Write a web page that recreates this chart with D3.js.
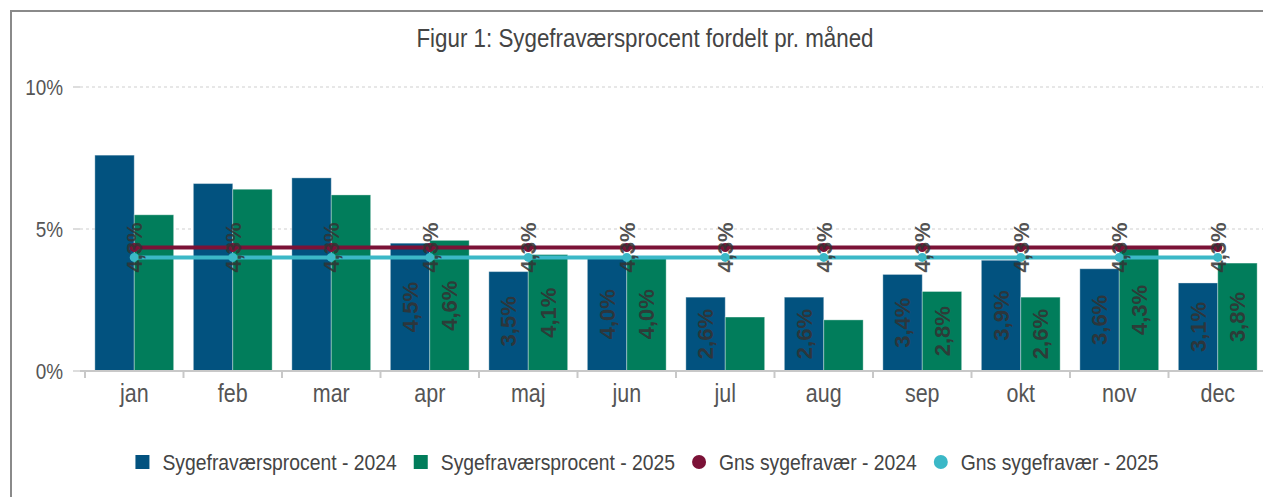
<!DOCTYPE html>
<html>
<head>
<meta charset="utf-8">
<script src="https://cdn.jsdelivr.net/npm/d3@7"></script>
<style>
  body { margin: 0; background: #fff; }
  svg { display: block; }
  text { font-family: "Liberation Sans", Arial, sans-serif; }
</style>
</head>
<body>
<div id="chart"></div>
<script>
// data
var months = ["jan", "feb", "mar", "apr", "maj", "jun", "jul", "aug", "sep", "okt", "nov", "dec"]
var pct2024 = [7.6, 6.6, 6.8, 4.5, 3.5, 4.0, 2.6, 2.6, 3.4, 3.9, 3.6, 3.1]
var pct2025 = [5.5, 6.4, 6.2, 4.6, 4.1, 4.0, 1.9, 1.8, 2.8, 2.6, 4.3, 3.8]
var avg2024 = 4.35
var avg2025 = 4.0
var yTicks = [0, 5, 10]
var seriesNames = ["Sygefraværsprocent - 2024", "Sygefraværsprocent - 2025", "Gns sygefravær - 2024", "Gns sygefravær - 2025"]
var title = "Figur 1: Sygefraværsprocent fordelt pr. måned"

var W = 1263, H = 497
var colors = { b2024: "#02527f", b2025: "#017d5b", a2024: "#7b1237", a2025: "#3bb8c7" }
var squeeze = 0.86 // the chart font is a narrow one, squeeze Liberation Sans to match

var da = d3.formatLocale({ decimal: ",", thousands: ".", grouping: [3], currency: ["", " kr."] })
var fmtPct = function(v) { return da.format(".1f")(v) + "%" }

// narrow text helper: a group that is scaled horizontally
function narrowText(parent, px, py, size, anchor, fill, str) {
  var g = parent.append("g").attr("transform", "translate(" + px + "," + py + ") scale(" + squeeze + ",1)")
  var t = g.append("text")
    .attr("text-anchor", anchor)
    .attr("font-size", size)
    .attr("fill", fill)
    .text(str)
  return t
}

var svg = d3.select("#chart").append("svg")
  .attr("width", W)
  .attr("height", H)

// frame
svg.append("path")
  .attr("d", "M11,520 L11,11 L1280,11")
  .attr("fill", "none")
  .attr("stroke", "#8a8a8a")
  .attr("stroke-width", 2)

// title
narrowText(svg, 645, 47, 26, "middle", "#444", title)

var x = d3.scaleBand().domain(months).range([85, 1267]).paddingInner(0.2).paddingOuter(0.1)
var x1 = d3.scaleBand().domain(["2024", "2025"]).range([0, x.bandwidth()])
var y = d3.scaleLinear().domain([0, 10]).range([371, 87])

// grid lines
svg.selectAll(".grid").data(yTicks.filter(function(d) { return d > 0 })).enter()
  .append("line")
  .attr("x1", 80).attr("x2", W)
  .attr("y1", function(d) { return y(d) }).attr("y2", function(d) { return y(d) })
  .attr("stroke", "#cfcfcf")
  .attr("stroke-dasharray", "3,3")

// y ticks + labels
svg.selectAll(".ytick").data(yTicks).enter()
  .append("line")
  .attr("x1", 73).attr("x2", 80)
  .attr("y1", function(d) { return y(d) }).attr("y2", function(d) { return y(d) })
  .attr("stroke", "#bbb")
yTicks.forEach(function(d) {
  narrowText(svg, 63, y(d), 22, "end", "#555", d + "%").attr("dy", "0.36em")
})

// bars
var rows = months.map(function(m, i) {
  return [{ m: m, s: "2024", v: pct2024[i] }, { m: m, s: "2025", v: pct2025[i] }]
})
var groups = svg.selectAll(".grp").data(rows).enter()
  .append("g")
  .attr("transform", function(d) { return "translate(" + x(d[0].m) + ",0)" })
groups.selectAll("rect").data(function(d) { return d }).enter()
  .append("rect")
  .attr("x", function(d) { return x1(d.s) })
  .attr("width", x1.bandwidth())
  .attr("y", function(d) { return y(d.v) })
  .attr("height", function(d) { return y(0) - y(d.v) })
  .attr("fill", function(d) { return d.s == "2024" ? colors.b2024 : colors.b2025 })
  .attr("stroke", "rgba(255,255,255,0.35)")
  .attr("stroke-width", 1)

// x axis
svg.append("line")
  .attr("x1", 80).attr("x2", W)
  .attr("y1", y(0)).attr("y2", y(0))
  .attr("stroke", "#c8c8c8")
  .attr("stroke-width", 2)
var half = x.step() * x.paddingInner() / 2
svg.selectAll(".xtick").data(months).enter()
  .append("line")
  .attr("x1", function(d) { return x(d) - half }).attr("x2", function(d) { return x(d) - half })
  .attr("y1", y(0)).attr("y2", y(0) + 7)
  .attr("stroke", "#c8c8c8")
  .attr("stroke-width", 2)
months.forEach(function(m) {
  narrowText(svg, x(m) + x.bandwidth() / 2, 402, 25, "middle", "#555", m)
})

// average lines
var cx = function(d, i) { return x(months[i]) + x.bandwidth() / 2 }
var avgs = [{ v: avg2024, c: colors.a2024 }, { v: avg2025, c: colors.a2025 }]
avgs.forEach(function(a) {
  var pts = months.map(function() { return a.v })
  svg.append("path")
    .datum(pts)
    .attr("fill", "none")
    .attr("stroke", a.c)
    .attr("stroke-width", 4)
    .attr("d", d3.line().x(cx).y(function(d) { return y(d) }))
  svg.selectAll(null).data(pts).enter()
    .append("circle")
    .attr("cx", cx)
    .attr("cy", function(d) { return y(d) })
    .attr("r", 4.5)
    .attr("fill", a.c)
})

// line labels (only the 2024 average shows them)
var lineLabLen = 52
var lineLabTop = y(avg2024) - lineLabLen / 2
var lineLabBottom = y(avg2024) + lineLabLen / 2

// bar labels, hidden when they don't fit or hit the line labels
groups.selectAll(".blab").data(function(d) { return d }).enter()
  .append("text")
  .attr("transform", function(d) {
    var mid = (y(d.v) + y(0)) / 2
    return "translate(" + (x1(d.s) + x1.bandwidth() / 2) + "," + mid + ") rotate(-90)"
  })
  .attr("text-anchor", "middle")
  .attr("dy", "0.36em")
  .attr("font-weight", "bold")
  .attr("font-size", 22)
  .attr("fill", "#333")
  .attr("fill-opacity", 0.9)
  .text(function(d) { return fmtPct(d.v) })
  .each(function(d) {
    var len = this.getComputedTextLength()
    var h = y(0) - y(d.v)
    var mid = (y(d.v) + y(0)) / 2
    var hitsLine = (mid - len / 2) < lineLabBottom && (mid + len / 2) > lineLabTop
    if (len > h - 12 || hitsLine) d3.select(this).remove()
  })

svg.selectAll(".llab").data(months).enter()
  .append("text")
  .attr("transform", function(d, i) { return "translate(" + cx(d, i) + "," + y(avg2024) + ") rotate(-90)" })
  .attr("text-anchor", "middle")
  .attr("dy", "0.36em")
  .attr("font-weight", "bold")
  .attr("font-size", 22)
  .attr("fill", "#333")
  .attr("fill-opacity", 0.85)
  .text(function() { return fmtPct(avg2024) })

// legend
var legend = svg.append("g")
var lx = 0
seriesNames.forEach(function(name, i) {
  var c = [colors.b2024, colors.b2025, colors.a2024, colors.a2025][i]
  if (i < 2) {
    legend.append("rect").attr("x", lx).attr("y", -7).attr("width", 14).attr("height", 14).attr("fill", c)
  } else {
    legend.append("circle").attr("cx", lx + 7).attr("cy", 0).attr("r", 7).attr("fill", c)
  }
  var t = narrowText(legend, lx + 27, 0, 22.5, "start", "#444", name).attr("dy", "0.36em")
  lx += 27 + t.node().getComputedTextLength() * squeeze + 17
})
var legW = lx - 17
legend.attr("transform", "translate(" + (647 - legW / 2) + ",462)")
</script>
</body>
</html>
